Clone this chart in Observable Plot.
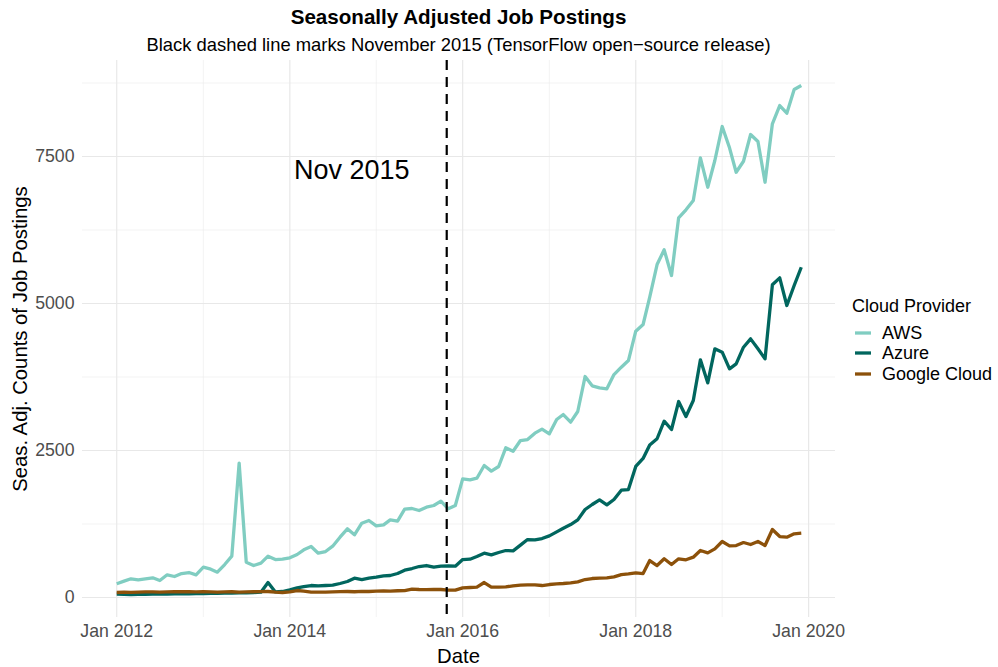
<!DOCTYPE html>
<html>
<head>
<meta charset="utf-8">
<script src="https://cdn.jsdelivr.net/npm/d3@7"></script>
<script src="https://cdn.jsdelivr.net/npm/@observablehq/plot@0.6"></script>
<style>
  body { margin: 0; background: #fff; font-family: "Liberation Sans", Arial, Helvetica, sans-serif; }
  #wrap { position: relative; width: 998px; height: 667px; overflow: hidden; }
  #wrap > svg { position: absolute; left: 0; top: 0; }
  .t { position: absolute; white-space: nowrap; line-height: 1; color: #000; }
</style>
</head>
<body>
<div id="wrap"></div>
<script>
// ---------------- data ----------------
const providers = ["AWS", "Azure", "Google Cloud"];
const providerColors = ["#80cdc1", "#01665e", "#8c510a"];
const firstMonth = "2012-01-01";   // monthly series, Jan 2012 .. Dec 2019
const lastMonth = "2019-12-01";

const aws = [233, 278, 318, 301, 318, 335, 289, 386, 357, 408, 425, 386,
  516, 482, 431, 561, 703, 2284, 600, 544, 584, 703, 646, 652,
  675, 731, 811, 867, 754, 782, 873, 1026, 1168, 1066, 1264, 1310,
  1219, 1236, 1321, 1298, 1502, 1514, 1480, 1536, 1565, 1638, 1508, 1565,
  2018, 2000, 2029, 2245, 2150, 2228, 2546, 2488, 2670, 2687, 2795, 2863,
  2783, 3027, 3112, 2982, 3163, 3758, 3600, 3566, 3549, 3792, 3917, 4030,
  4529, 4643, 5107, 5663, 5913, 5476, 6457, 6593, 6752, 7478, 6978, 7432,
  8010, 7648, 7233, 7420, 7874, 7755, 7063, 8056, 8367, 8236, 8639, 8707];

const azure = [60, 55, 50, 52, 55, 57, 58, 60, 62, 63, 64, 66,
  68, 70, 72, 73, 75, 78, 80, 84, 90, 255, 95, 102,
  130, 165, 187, 204, 198, 204, 210, 238, 272, 329, 306, 329,
  346, 368, 374, 408, 465, 493, 527, 544, 516, 533, 538, 533,
  646, 652, 697, 754, 726, 765, 799, 794, 890, 986, 981, 1003,
  1049, 1117, 1179, 1241, 1321, 1497, 1582, 1661, 1576, 1667, 1825, 1835,
  2230, 2365, 2595, 2700, 2999, 2857, 3333, 3078, 3350, 4042, 3651, 4229,
  4172, 3889, 3974, 4257, 4399, 4229, 4059, 5318, 5437, 4966, 5306, 5617];

const google = [85, 90, 88, 92, 95, 95, 92, 95, 98, 100, 98, 95,
  100, 95, 92, 95, 98, 92, 95, 98, 100, 102, 90, 85,
  96, 119, 108, 90, 90, 92, 95, 100, 102, 98, 104, 102,
  108, 113, 110, 115, 118, 142, 136, 134, 138, 136, 125, 125,
  165, 170, 176, 255, 176, 176, 181, 198, 210, 215, 215, 204,
  221, 232, 238, 249, 266, 306, 323, 329, 334, 351, 390, 402,
  419, 408, 629, 544, 658, 561, 658, 641, 686, 799, 760, 828,
  952, 879, 884, 935, 901, 952, 884, 1156, 1037, 1026, 1083, 1094];

const yMajorTicks = [0, 2500, 5000, 7500];
const yMinorTicks = [1250, 3750, 6250, 8750];
const xMajorTicks = ["2012-01-01", "2014-01-01", "2016-01-01", "2018-01-01", "2020-01-01"];
const xMinorTicks = ["2013-01-01", "2015-01-01", "2017-01-01", "2019-01-01"];
const tensorflowRelease = ["2015-11-01"];
const annotationDates = ["2014-09-20"];
const annotationValues = [7260];
const annotationLabels = ["Nov 2015"];

const titleText = "Seasonally Adjusted Job Postings";
const subtitleText = "Black dashed line marks November 2015 (TensorFlow open\u2212source release)";
const xTitle = "Date";
const yTitle = "Seas. Adj. Counts of Job Postings";
const legendTitle = "Cloud Provider";

// ---------------- build ----------------
const months = d3.utcMonth.range(new Date(firstMonth), d3.utcMonth.offset(new Date(lastMonth), 1));
const seriesValues = [aws, azure, google];
const rows = [];
providers.forEach((p, k) => {
  months.forEach((m, i) => rows.push({ provider: p, date: m, value: seriesValues[k][i] }));
});
const annotations = annotationLabels.map((l, i) => ({ date: new Date(annotationDates[i]), value: annotationValues[i], label: l }));

// ggplot-like 5% expansion
const x0 = months[0], x1 = months[months.length - 1];
const xPad = (x1 - x0) * 0.05;
const FONT = '"Liberation Sans", Arial, Helvetica, sans-serif';

const chart = Plot.plot({
  width: 998,
  height: 667,
  marginTop: 60,
  marginBottom: 50,
  marginLeft: 82,
  marginRight: 163,
  style: { fontFamily: FONT, fontSize: "17.5px", background: "transparent", overflow: "visible" },
  x: { type: "utc", domain: [new Date(+x0 - xPad), new Date(+x1 + xPad)] },
  y: { domain: [-340, 9133] },
  color: { domain: providers, range: providerColors },
  marks: [
    Plot.gridX(xMinorTicks.map(d => new Date(d)), { stroke: "#ebebeb", strokeOpacity: 1, strokeWidth: 0.6 }),
    Plot.gridY(yMinorTicks, { stroke: "#ebebeb", strokeOpacity: 1, strokeWidth: 0.6 }),
    Plot.gridX(xMajorTicks.map(d => new Date(d)), { stroke: "#e8e8e8", strokeOpacity: 1, strokeWidth: 1.2 }),
    Plot.gridY(yMajorTicks, { stroke: "#e8e8e8", strokeOpacity: 1, strokeWidth: 1.2 }),
    Plot.axisX(xMajorTicks.map(d => new Date(d)), {
      tickSize: 0, tickPadding: 7, tickFormat: d3.utcFormat("%b %Y"), label: null, fill: "#4d4d4d", fontSize: 17.7
    }),
    Plot.axisY(yMajorTicks, {
      tickSize: 0, tickPadding: 8, tickFormat: d3.format("d"), label: null, fill: "#4d4d4d", fontSize: 17.7
    }),
    Plot.line(rows, {
      x: "date", y: "value", z: "provider", stroke: "provider",
      strokeWidth: 3.3, strokeLinejoin: "round", strokeLinecap: "butt"
    }),
    Plot.ruleX(tensorflowRelease.map(d => new Date(d)), { stroke: "#000", strokeWidth: 2.2, strokeDasharray: "10,7", dx: -1.5 }),
    Plot.text(annotations, { x: "date", y: "value", text: "label", fontSize: 27, fill: "#000" })
  ]
});

const wrap = document.getElementById("wrap");
wrap.appendChild(chart);

function addText(txt, left, top, size, extra) {
  const d = document.createElement("div");
  d.className = "t";
  d.textContent = txt;
  d.style.left = left + "px";
  d.style.top = top + "px";
  d.style.fontSize = size + "px";
  Object.assign(d.style, extra || {});
  wrap.appendChild(d);
  return d;
}

const panelCenterX = (82 + (998 - 163)) / 2;
addText(titleText, panelCenterX, 17, 20.6, { fontWeight: "bold", transform: "translate(-50%,-50%)" });
addText(subtitleText, panelCenterX, 45, 18.4, { transform: "translate(-50%,-50%)" });
addText(xTitle, panelCenterX, 656, 20.3, { transform: "translate(-50%,-50%)" });
addText(yTitle, 20, (60 + 617) / 2, 20.3, { transform: "translate(-50%,-50%) rotate(-90deg)" });

// legend
addText(legendTitle, 852, 306 - 0.49 * 18, 18);
const keyY = [333, 353, 373.5];
providers.forEach((p, i) => {
  const ns = "http://www.w3.org/2000/svg";
  const s = document.createElementNS(ns, "svg");
  s.setAttribute("width", 20); s.setAttribute("height", 8);
  s.style.position = "absolute";
  s.style.left = "853px";
  s.style.top = (keyY[i] - 4) + "px";
  const l = document.createElementNS(ns, "line");
  l.setAttribute("x1", 2); l.setAttribute("x2", 18);
  l.setAttribute("y1", 4); l.setAttribute("y2", 4);
  l.setAttribute("stroke", providerColors[i]);
  l.setAttribute("stroke-width", 3.3);
  s.appendChild(l);
  wrap.appendChild(s);
  addText(p, 882, keyY[i] - 0.49 * 18, 18);
});
</script>
</body>
</html>
